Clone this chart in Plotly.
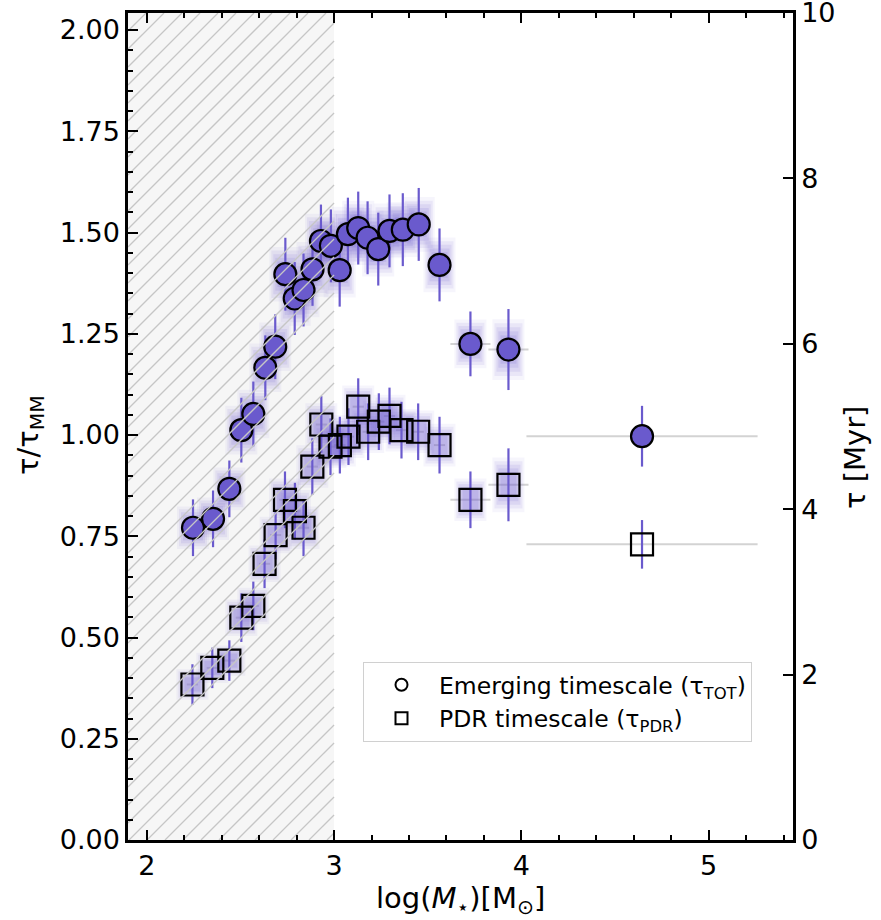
import plotly.graph_objects as go

# ---------------- data ----------------
tot_x = [2.247, 2.354, 2.441, 2.505, 2.569, 2.633, 2.686, 2.740, 2.790, 2.837,
         2.885, 2.930, 2.983, 3.030, 3.074, 3.129, 3.179, 3.236, 3.296, 3.367,
         3.452, 3.563, 3.728, 3.931, 4.644]
tot_y = [0.771, 0.793, 0.867, 1.012, 1.052, 1.166, 1.218, 1.397, 1.337, 1.358,
         1.409, 1.479, 1.467, 1.407, 1.496, 1.511, 1.487, 1.459, 1.504, 1.507,
         1.520, 1.420, 1.225, 1.211, 0.997]
tot_yerr = [0.07, 0.07, 0.07, 0.08, 0.08, 0.08, 0.08, 0.09, 0.09, 0.09,
            0.09, 0.09, 0.09, 0.09, 0.09, 0.09, 0.09, 0.09, 0.09, 0.09,
            0.09, 0.09, 0.08, 0.10, 0.075]
tot_halo = [1, 1, 1, 1, 1, 1, 1, 1, 1, 1, 1, 1, 1, 1, 1, 1, 1, 1, 1, 1,
            1, 1, 1, 1, 0]

pdr_x = [2.244, 2.350, 2.441, 2.505, 2.569, 2.629, 2.688, 2.738, 2.791, 2.837,
         2.884, 2.932, 2.981, 3.031, 3.077, 3.129, 3.182, 3.239, 3.296, 3.360,
         3.449, 3.563, 3.728, 3.931, 4.644]
pdr_y = [0.384, 0.425, 0.443, 0.549, 0.578, 0.682, 0.753, 0.840, 0.812, 0.771,
         0.922, 1.026, 0.971, 0.975, 0.996, 1.070, 1.008, 1.033, 1.047, 1.012,
         1.008, 0.975, 0.840, 0.877, 0.730]
pdr_yerr = [0.05, 0.05, 0.05, 0.06, 0.06, 0.06, 0.06, 0.07, 0.07, 0.07,
            0.07, 0.07, 0.07, 0.07, 0.07, 0.07, 0.07, 0.07, 0.07, 0.07,
            0.07, 0.07, 0.07, 0.09, 0.06]
pdr_halo = tot_halo

mass_err = [0.03] * 22 + [0.107, 0.107, 0.617]

x_ticks = [2, 3, 4, 5]
left_ticks = [0.0, 0.25, 0.5, 0.75, 1.0, 1.25, 1.5, 1.75, 2.0]
right_ticks = [0, 2, 4, 6, 8, 10]

# low-mass (shaded) region
shade_lo, shade_hi = 1.9, 3.0

# ---------------- style ----------------
PURPLE = "#6a5acd"
FONT = "DejaVu Sans"
XR = [1.9, 5.45]
YR = [0, 2.042]
Y2R = [0, 10]
W, H = 881, 920
ML, MR, MT, MB = 128, 88, 13, 80
PW, PH = W - ML - MR, H - MT - MB

fig = go.Figure()


def add_series(xs, ys, yerr, halo, symbol, fill):
    fig.add_trace(go.Scatter(
        x=xs, y=ys, mode="markers", marker=dict(size=1, opacity=0),
        error_x=dict(type="data", array=mass_err, color="#d3d3d3", thickness=2, width=0),
        showlegend=False, hoverinfo="skip"))
    hx = [x for x, h in zip(xs, halo) if h]
    hy = [y for y, h in zip(ys, halo) if h]
    he = [e for e, h in zip(yerr, halo) if h]
    for frac, thick, alpha in [(0.75, 32, 0.06), (0.65, 28, 0.09), (0.55, 24, 0.11),
                               (0.45, 20, 0.13), (0.35, 16, 0.15)]:
        fig.add_trace(go.Scatter(
            x=hx, y=hy, mode="markers", marker=dict(size=1, opacity=0),
            error_y=dict(type="data", array=[e * frac for e in he],
                         color=f"rgba(106,90,205,{alpha})", thickness=thick, width=0),
            showlegend=False, hoverinfo="skip"))
    fig.add_trace(go.Scatter(
        x=xs, y=ys, mode="markers", marker=dict(size=1, opacity=0),
        error_y=dict(type="data", array=yerr, color=PURPLE, thickness=2.2, width=0),
        showlegend=False, hoverinfo="skip"))
    fig.add_trace(go.Scatter(
        x=xs, y=ys, mode="markers",
        marker=dict(symbol=symbol, size=22, color=fill,
                    line=dict(color="black", width=2.2)),
        showlegend=False))


add_series(pdr_x, pdr_y, pdr_yerr, pdr_halo, "square", "rgba(0,0,0,0)")
add_series(tot_x, tot_y, tot_yerr, tot_halo, "circle", PURPLE)

# hatch lines ("/" at 45 degrees on screen) over the shaded region
sx = PW / (XR[1] - XR[0])   # px per x unit
sy = PH / (YR[1] - YR[0])   # px per y unit
u_max = (shade_hi - shade_lo) * sx
v_max = PH
step = 18
hx_, hy_ = [], []
c = -v_max
while c < u_max:
    u0 = max(0.0, c)
    v0 = u0 - c
    u1 = min(u_max, c + v_max)
    v1 = u1 - c
    if u1 > u0:
        hx_ += [shade_lo + u0 / sx, shade_lo + u1 / sx, None]
        hy_ += [YR[0] + v0 / sy, YR[0] + v1 / sy, None]
    c += step
fig.add_trace(go.Scatter(x=hx_, y=hy_, mode="lines",
                         line=dict(color="#c6c6c6", width=1.3),
                         showlegend=False, hoverinfo="skip", connectgaps=False))

# legend entries
fig.add_trace(go.Scatter(
    x=[None], y=[None], mode="markers",
    marker=dict(symbol="circle-open", size=16, color="black", line=dict(width=1.8)),
    name="Emerging timescale (τ<sub>TOT</sub>)"))
fig.add_trace(go.Scatter(
    x=[None], y=[None], mode="markers",
    marker=dict(symbol="square-open", size=16, color="black", line=dict(width=1.8)),
    name="PDR timescale (τ<sub>PDR</sub>)"))

# right axis dummy
fig.add_trace(go.Scatter(x=[None], y=[None], yaxis="y2", showlegend=False,
                         mode="markers", hoverinfo="skip"))

fig.add_shape(type="rect", xref="x", yref="y", x0=shade_lo, x1=shade_hi, y0=YR[0], y1=YR[1],
              fillcolor="#f6f6f6", line=dict(width=0), layer="below")

tickfont = dict(family=FONT, size=27, color="black")
titlefont = dict(family=FONT, size=29, color="black")

# axis titles as annotations (exact placement)
fig.add_annotation(text="log(<i>M</i><sub>⋆</sub>)[M<sub>⊙</sub>]", font=titlefont,
                   xref="paper", yref="paper", x=0.5, y=-(900 - (H - MB)) / PH,
                   xanchor="center", yanchor="middle", showarrow=False)
fig.add_annotation(text="τ/τ<sub>MM</sub>", font=titlefont, textangle=-90,
                   xref="paper", yref="paper", x=-(ML - 30) / PW, y=(H - MB - 435) / PH,
                   xanchor="center", yanchor="middle", showarrow=False)
fig.add_annotation(text="τ [Myr]", font=titlefont, textangle=-90,
                   xref="paper", yref="paper", x=1 + (855 - (W - MR)) / PW, y=(H - MB - 458) / PH,
                   xanchor="center", yanchor="middle", showarrow=False)

fig.update_layout(
    width=W, height=H,
    margin=dict(l=ML, r=MR, t=MT, b=MB),
    paper_bgcolor="white", plot_bgcolor="white",
    font=dict(family=FONT, color="black"),
    xaxis=dict(range=XR, tickvals=x_ticks, ticktext=[str(v) for v in x_ticks],
               ticks="inside", ticklen=10, tickwidth=2, tickcolor="black",
               minor=dict(dtick=0.2, tick0=0, ticks="inside", ticklen=5, tickwidth=1.5,
                          tickcolor="black", showgrid=False),
               showline=True, linecolor="black", linewidth=2.5, mirror="ticks",
               showgrid=False, zeroline=False, tickfont=tickfont, automargin=False),
    yaxis=dict(range=YR, tickvals=left_ticks, tickformat=".2f",
               ticks="inside", ticklen=10, tickwidth=2, tickcolor="black",
               minor=dict(dtick=0.05, tick0=0, ticks="inside", ticklen=5, tickwidth=1.5,
                          tickcolor="black", showgrid=False),
               showline=True, linecolor="black", linewidth=2.5,
               showgrid=False, zeroline=False, tickfont=tickfont, automargin=False),
    yaxis2=dict(range=Y2R, tickvals=right_ticks, overlaying="y", side="right",
                ticks="inside", ticklen=10, tickwidth=2, tickcolor="black",
                showline=True, linecolor="black", linewidth=2.5,
                showgrid=False, zeroline=False, tickfont=tickfont,
                ticklabeloverflow="allow", automargin=False),
    legend=dict(x=(363 - ML) / PW, y=(H - MB - 742) / PH, xanchor="left", yanchor="bottom",
                bgcolor="white", bordercolor="#d0d0d0", borderwidth=1,
                font=dict(family=FONT, size=23.5, color="black"),
                itemsizing="constant", itemwidth=65, tracegroupgap=4),
    showlegend=True,
)

fig.write_html("out.html")
